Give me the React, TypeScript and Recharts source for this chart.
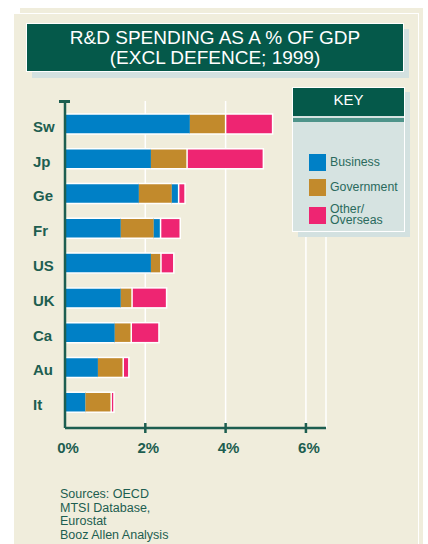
import React from "react";
import { BarChart, Bar, XAxis, YAxis, CartesianGrid } from "recharts";

const countries = ["Sw", "Jp", "Ge", "Fr", "US", "UK", "Ca", "Au", "It"];
const business = [3.11, 2.14, 1.84, 1.39, 2.14, 1.39, 1.24, 0.82, 0.51];
const government = [0.89, 0.9, 0.82, 0.82, 0.25, 0.28, 0.41, 0.63, 0.64];
const businessExtra = [0, 0, 0.17, 0.17, 0, 0, 0, 0, 0];
const other = [1.17, 1.9, 0.16, 0.49, 0.32, 0.86, 0.69, 0.14, 0.07];
const xTicks = [0, 2, 4, 6];
const keyLabels = ["Business", "Government", "Other/\nOverseas"];
const sources = ["Sources: OECD", "MTSI Database,", "Eurostat", "Booz Allen Analysis"];

const BLUE = "#0080C6";
const GOLD = "#C28A2C";
const PINK = "#EE2572";
const DARK = "#05594A";
const TEXT = "#1D5E50";
const CREAM = "#F0EDDC";
const FONT = '"Liberation Sans", Arial, sans-serif';

const data = countries.map((c, i) => ({
  country: c,
  business: business[i],
  government: government[i],
  businessExtra: businessExtra[i],
  other: other[i],
}));

// segment shape: colour fill with white edges top/bottom, optional left/right
const segment = (left: boolean, full: boolean) => (props: any) => {
  const { x, y, width, height, fill } = props;
  if (!width || width <= 0) return <g />;
  if (full) {
    return <rect x={x} y={y} width={width} height={height} fill={fill} stroke="#fff" strokeWidth={1.5} />;
  }
  return (
    <g>
      <rect x={x} y={y} width={width} height={height} fill={fill} />
      <line x1={x} x2={x + width} y1={y} y2={y} stroke="#fff" strokeWidth={1.5} />
      <line x1={x} x2={x + width} y1={y + height} y2={y + height} stroke="#fff" strokeWidth={1.5} />
      {left && <line x1={x} x2={x} y1={y} y2={y + height} stroke="#fff" strokeWidth={1.5} />}
    </g>
  );
};

const YTick = (props: any) => {
  const { y, payload } = props;
  return (
    <text x={33} y={y + 7.5} fill={TEXT} fontSize={15} fontWeight="bold" fontFamily={FONT} textAnchor="start">
      {payload.value}
    </text>
  );
};

const XTick = (props: any) => {
  const { x, y, payload } = props;
  return (
    <g>
      {payload.value > 0 && <line x1={x} x2={x} y1={y - 5} y2={y + 5} stroke={TEXT} strokeWidth={2.5} />}
      <text x={x + 3} y={y + 25} fill={TEXT} fontSize={15} fontWeight="bold" fontFamily={FONT} textAnchor="middle">
        {payload.value}%
      </text>
    </g>
  );
};

export default function App() {
  const keyColors = [BLUE, GOLD, PINK];
  return (
    <div style={{ position: "fixed", left: 0, top: 0, width: 428, height: 544, background: "#fff", overflow: "hidden", fontFamily: FONT }}>
      <div style={{ position: "absolute", left: 20, top: 8, width: 403, height: 540, background: CREAM }} />
      <div style={{ position: "absolute", left: 13, top: 13, width: 406, height: 540, background: CREAM, border: "1px solid #fff", boxSizing: "border-box" }} />

      {/* title */}
      <div style={{ position: "absolute", left: 32, top: 29, width: 377, height: 49, background: "#D3E1E0" }} />
      <div
        style={{
          position: "absolute", left: 26, top: 23, width: 378, height: 49, background: DARK, border: "1px solid #fff",
          boxSizing: "border-box", color: "#fff", fontSize: 19, lineHeight: "19.5px", textAlign: "center", paddingTop: 4,
        }}
      >
        R&amp;D SPENDING AS A % OF GDP
        <br />
        (EXCL DEFENCE; 1999)
      </div>

      {/* y axis cap */}
      <div style={{ position: "absolute", left: 59, top: 100, width: 11, height: 2.5, background: TEXT }} />

      <div style={{ position: "absolute", left: 0, top: 0 }}>
        <BarChart
          width={428}
          height={544}
          data={data}
          layout="vertical"
          margin={{ top: 101, right: 102, bottom: 86, left: 0 }}
          barSize={20}
        >
          <CartesianGrid horizontal={false} stroke="#fff" strokeWidth={1.5} />
          <XAxis
            type="number"
            domain={[0, 6.5]}
            ticks={xTicks}
            height={30}
            tickSize={0}
            tickMargin={0}
            tickLine={false}
            axisLine={{ stroke: TEXT, strokeWidth: 2.5 }}
            tick={<XTick />}
          />
          <YAxis
            type="category"
            dataKey="country"
            width={65}
            padding={{ top: 6, bottom: 8 }}
            tickLine={false}
            axisLine={{ stroke: TEXT, strokeWidth: 2.5 }}
            tick={<YTick />}
          />
          <Bar dataKey="business" stackId="a" fill={BLUE} shape={segment(true, false)} isAnimationActive={false} />
          <Bar dataKey="government" stackId="a" fill={GOLD} shape={segment(false, false)} isAnimationActive={false} />
          <Bar dataKey="businessExtra" stackId="a" fill={BLUE} shape={segment(false, false)} isAnimationActive={false} />
          <Bar dataKey="other" stackId="a" fill={PINK} shape={segment(false, true)} isAnimationActive={false} />
        </BarChart>
      </div>

      {/* key */}
      <div style={{ position: "absolute", left: 298, top: 92, width: 112, height: 145, background: "#D3E1E0" }} />
      <div style={{ position: "absolute", left: 292, top: 87, width: 113, height: 145, background: "#D6E3E1", border: "1px solid #fff", boxSizing: "border-box" }}>
        <div style={{ height: 28, background: DARK, color: "#fff", fontSize: 15, textAlign: "center", lineHeight: "24px" }}>KEY</div>
        <div style={{ height: 4, marginTop: 2, background: "#4E948A" }} />
        {keyLabels.map((label, i) => (
          <div key={label} style={{ position: "absolute", left: 16, top: 66 + i * 25, display: "flex", alignItems: "center" }}>
            <div style={{ width: 17, height: 17, background: keyColors[i] }} />
            <div style={{ marginLeft: 4, fontSize: 12.3, lineHeight: "11px", color: "#2A6A5D", whiteSpace: "pre" }}>{label}</div>
          </div>
        ))}
      </div>

      {/* sources */}
      <div style={{ position: "absolute", left: 60, top: 488, fontSize: 12.5, lineHeight: "13.6px", color: TEXT }}>
        {sources.map((s) => (
          <div key={s}>{s}</div>
        ))}
      </div>
    </div>
  );
}
